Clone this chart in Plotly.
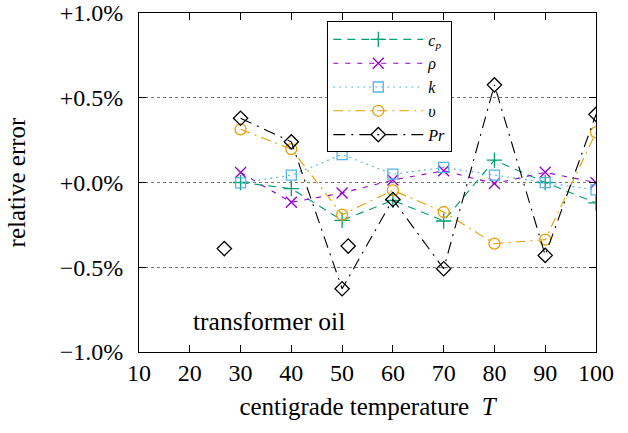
"""Relative error of transformer oil property fits."""

import plotly.graph_objects as go

# temperatures in degrees Celsius
temperature = [30, 40, 50, 60, 70, 80, 90, 100]

# relative errors in percent
err_cp = [0.0, -0.036, -0.223, -0.105, -0.227, 0.132, 0.0, -0.12]
err_rho = [0.059, -0.117, -0.062, 0.015, 0.069, -0.006, 0.06, -0.001]
err_k = [-0.002, 0.043, 0.165, 0.049, 0.089, 0.043, -0.001, -0.044]
err_nu = [0.314, 0.197, -0.19, -0.046, -0.174, -0.361, -0.337, 0.296]
err_pr = [0.379, 0.240, -0.627, -0.10, -0.509, 0.576, -0.43, 0.402]

# two lone Pr points not joined to the curve
pr_lone_t = [26.8, 51.2]
pr_lone_err = [-0.39, -0.375]

y_ticks = [-1.0, -0.5, 0.0, 0.5, 1.0]
y_tick_text = ["\u22121.0%", "\u22120.5%", "+0.0%", "+0.5%", "+1.0%"]
x_ticks = [10, 20, 30, 40, 50, 60, 70, 80, 90, 100]

FONT = "Liberation Serif, Times New Roman, serif"

series = [
    ("<i>c<sub>p</sub></i>", err_cp, "#009e73", "8px,6px", "cross-thin-open", 11),
    ("<i>\u03c1</i>", err_rho, "#9400d3", "5px,7px", "x-thin-open", 11),
    ("<i>k</i>", err_k, "#56b4e9", "2px,4px", "square-open", 10),
    ("<i>\u03c5</i>", err_nu, "#e69f00", "10px,5px,2px,5px", "circle-open", 11),
    ("<i>Pr</i>", err_pr, "black", "12px,6px,2px,6px", "diamond-open", 11),
]

fig = go.Figure()
for name, values, color, dash, symbol, size in series:
    fig.add_trace(
        go.Scatter(
            x=temperature,
            y=values,
            name=name,
            mode="lines+markers",
            line=dict(color=color, width=1.1, dash=dash),
            marker=dict(symbol=symbol, size=size, color=color, line=dict(width=1.3, color=color)),
        )
    )

fig.add_trace(
    go.Scatter(
        x=pr_lone_t,
        y=pr_lone_err,
        name="Pr",
        mode="markers",
        showlegend=False,
        marker=dict(symbol="diamond-open", size=11, color="black", line=dict(width=1.3, color="black")),
    )
)

fig.add_annotation(
    x=20.3,
    y=-0.82,
    xanchor="left",
    yanchor="middle",
    text="transformer oil",
    showarrow=False,
    font=dict(size=25.5, color="black", family=FONT),
)

axis_common = dict(
    showline=True,
    linecolor="black",
    linewidth=1,
    mirror="ticks",
    ticks="inside",
    ticklen=7,
    tickcolor="black",
    zeroline=False,
    automargin=False,
    ticklabeloverflow="allow",
    tickfont=dict(size=24, color="black", family=FONT),
)

fig.update_xaxes(
    range=[10, 100],
    tickvals=x_ticks,
    showgrid=False,
    ticklabelstandoff=-1,
    title=dict(text="centigrade temperature  <i>T</i>", font=dict(size=25, family=FONT), standoff=12),
    **axis_common,
)
fig.update_yaxes(
    range=[-1.0, 1.0],
    tickvals=y_ticks,
    ticktext=y_tick_text,
    showgrid=True,
    gridcolor="#777777",
    gridwidth=1,
    griddash="dot",
    ticklabelstandoff=10,
    title=dict(text="relative error", font=dict(size=25, family=FONT), standoff=26),
    **axis_common,
)

fig.update_layout(
    width=628,
    height=433,
    margin=dict(l=139, r=32, t=13, b=81),
    plot_bgcolor="white",
    paper_bgcolor="white",
    font=dict(family=FONT, color="black"),
    legend=dict(
        x=0.412,
        y=0.975,
        xanchor="left",
        yanchor="top",
        bgcolor="white",
        bordercolor="black",
        borderwidth=1,
        font=dict(size=16, family=FONT),
        itemwidth=90,
        tracegroupgap=0,
    ),
)

# drop the default page margin so the figure sits at the window corner
fig.write_html(
    "out.html",
    config={"displayModeBar": False},
    post_script="document.body.style.margin = '0';",
)
